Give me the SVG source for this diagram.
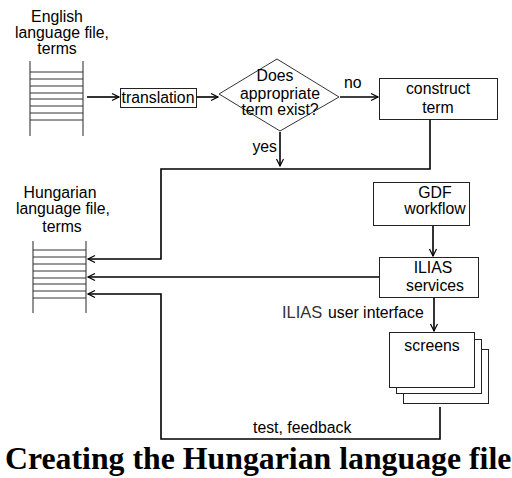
<svg xmlns="http://www.w3.org/2000/svg" width="512" height="478" viewBox="0 0 512 478">
<defs>
<marker id="ah" markerWidth="10" markerHeight="10" refX="8" refY="4" orient="auto" markerUnits="userSpaceOnUse">
<path d="M1,0.5 L8,4 L1,7.5" fill="none" stroke="#000" stroke-width="1.2"/>
</marker>
</defs>
<style>
text{font-family:"Liberation Sans",Arial,sans-serif;font-size:15.8px;fill:#000}
.c{text-anchor:middle}
.e{text-anchor:end}
.box{fill:#fff;stroke:#222;stroke-width:1}
.conn{fill:none;stroke:#000;stroke-width:1.6}
.fv{stroke:#777;stroke-width:1.6}
.fh{stroke:#333;stroke-width:1}
.title{font-family:"Liberation Serif","Times New Roman",serif;font-weight:bold;font-size:31.8px}
</style>
<rect width="512" height="478" fill="#fff"/>
<g id="english-file">
<text class="c" x="57" y="22">English</text>
<text class="c" x="62" y="38">language file,</text>
<text class="c" x="57" y="54">terms</text>
<line class="fv" x1="30" y1="61" x2="30" y2="136"/>
<line class="fv" x1="83" y1="61" x2="83" y2="136"/>
<g class="fh">
<line x1="30" y1="72" x2="83" y2="72"/><line x1="30" y1="79" x2="83" y2="79"/>
<line x1="30" y1="86" x2="83" y2="86"/><line x1="30" y1="93" x2="83" y2="93"/>
<line x1="30" y1="99" x2="83" y2="99"/><line x1="30" y1="106" x2="83" y2="106"/>
<line x1="30" y1="113" x2="83" y2="113"/><line x1="30" y1="120" x2="83" y2="120"/>
</g>
</g>
<g id="translation">
<rect class="box" x="120.5" y="88.5" width="76" height="19"/>
<text class="c" x="158" y="103">translation</text>
</g>
<g id="decision">
<polygon points="277,59 339,97 280,131 219,94" fill="#fff" stroke="#333" stroke-width="1"/>
<text class="c" x="275" y="81">Does</text>
<text class="c" x="280" y="99">appropriate</text>
<text class="c" x="280" y="115">term exist?</text>
</g>
<g id="construct-term">
<rect class="box" x="379.5" y="78.5" width="118" height="41"/>
<text class="c" x="438" y="94">construct</text>
<text class="c" x="438" y="113">term</text>
</g>
<g id="hungarian-file">
<text class="c" x="60" y="198">Hungarian</text>
<text class="c" x="63" y="214">language file,</text>
<text class="c" x="62" y="232">terms</text>
<line class="fv" x1="33" y1="241" x2="33" y2="313"/>
<line class="fv" x1="86" y1="241" x2="86" y2="313"/>
<g class="fh">
<line x1="33" y1="250" x2="86" y2="250"/><line x1="33" y1="257" x2="86" y2="257"/>
<line x1="33" y1="264" x2="86" y2="264"/><line x1="33" y1="271" x2="86" y2="271"/>
<line x1="33" y1="278" x2="86" y2="278"/><line x1="33" y1="284" x2="86" y2="284"/>
<line x1="33" y1="291" x2="86" y2="291"/><line x1="33" y1="298" x2="86" y2="298"/>
</g>
</g>
<g id="gdf-workflow">
<rect class="box" x="373.5" y="182.5" width="96" height="43"/>
<text class="c" x="435" y="198">GDF</text>
<text class="c" x="435" y="214">workflow</text>
</g>
<g id="ilias-services">
<rect class="box" x="379.5" y="257.5" width="99" height="40"/>
<text class="c" x="433" y="273">ILIAS</text>
<text class="c" x="435" y="291">services</text>
</g>
<g id="screens">
<rect class="box" x="403.5" y="349.5" width="85" height="54"/>
<rect class="box" x="396.5" y="339.5" width="85" height="54"/>
<rect class="box" x="389.5" y="332.5" width="85" height="55"/>
<text class="c" x="432" y="351">screens</text>
</g>
<g id="connectors">
<line class="conn" x1="87" y1="97" x2="119" y2="97" marker-end="url(#ah)"/>
<line class="conn" x1="197" y1="97" x2="218" y2="97" marker-end="url(#ah)"/>
<line class="conn" x1="340" y1="97" x2="378" y2="97" marker-end="url(#ah)"/>
<text x="344" y="88">no</text>
<line class="conn" x1="280" y1="132" x2="280" y2="166" marker-end="url(#ah)"/>
<text class="e" x="277" y="152">yes</text>
<polyline class="conn" points="430,120 430,169 161,169 161,259 88,259" marker-end="url(#ah)"/>
<line class="conn" x1="433" y1="226" x2="433" y2="256" marker-end="url(#ah)"/>
<line class="conn" x1="379" y1="277" x2="88" y2="277" marker-end="url(#ah)"/>
<line class="conn" x1="434" y1="298" x2="434" y2="331" marker-end="url(#ah)"/>
<text x="282" y="318" style="fill:#333;font-size:16.5px">ILIAS</text>
<text x="328" y="318">user interface</text>
<polyline class="conn" points="440,407 440,439 161,439 161,294 88,294" marker-end="url(#ah)"/>
<text x="253" y="433">test, feedback</text>
</g>
<text class="title" x="5" y="469">Creating the Hungarian language file</text>
</svg>
